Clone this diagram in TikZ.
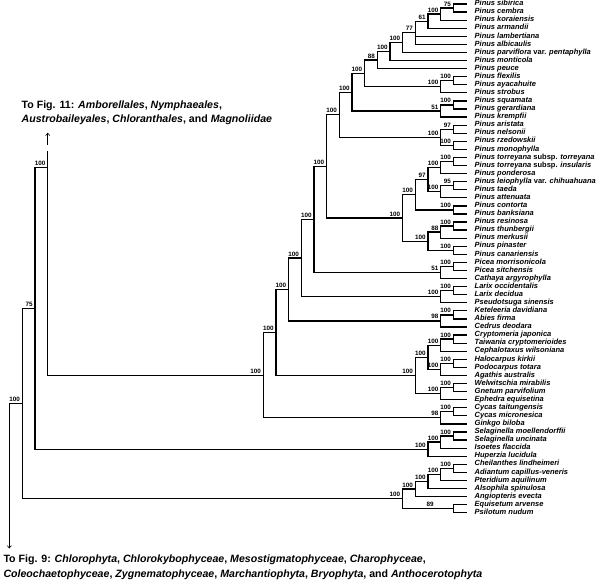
\documentclass[tikz,border=0pt]{standalone}
\usepackage{fontspec}
\setmainfont{Liberation Sans}
\usetikzlibrary{calc,arrows.meta}
\newcommand\mkin[4]{\path let \p1=(#3), \p2=(#4) in coordinate (#1) at ({466-12.67*#2},{0.5*(\y1+\y2)});}
\newcommand\mkinx[4]{\path let \p1=(#3), \p2=(#4) in coordinate (#1) at (#2,{0.5*(\y1+\y2)});}
\newcommand\brn[2]{\draw[br] (#1) |- (#2);}
\newcommand\nd[5]{\mkin{#1}{#2}{#3}{#4}\brn{#1}{#3}\brn{#1}{#4}\node[bs] (b#1) at (#1) {#5};}
\newcommand\ndx[5]{\mkinx{#1}{#2}{#3}{#4}\brn{#1}{#3}\brn{#1}{#4}\node[bs] (b#1) at (#1) {#5};}
\begin{document}
\begin{tikzpicture}[x=1pt,y=1pt,
  br/.style={line width=1.25pt,line cap=rect,line join=miter,black},
  bs/.style={font=\fontsize{6.3}{7}\selectfont\bfseries,anchor=south east,inner sep=0pt,xshift=-2.2pt,yshift=1.7pt},
  bsc/.style={font=\fontsize{6.3}{7}\selectfont\bfseries,anchor=south,inner sep=0pt,yshift=1.7pt},
  leaf/.style={font=\fontsize{7.5}{8}\selectfont\bfseries\itshape,anchor=base west,inner sep=0pt},
  ttl/.style={font=\fontsize{10.6}{13}\selectfont\bfseries,anchor=base west,inner sep=0pt},
  arw/.style={line width=0.6pt,-{Straight Barb[length=2.4pt,width=4.2pt]}}]
\useasboundingbox (0,0) rectangle (600,-581);
% leaves
\foreach \t [count=\i] in {
{Pinus sibirica},{Pinus cembra},{Pinus koraiensis},{Pinus armandii},{Pinus lambertiana},
{Pinus albicaulis},{Pinus parviflora {\upshape var.} pentaphylla},{Pinus monticola},{Pinus peuce},
{Pinus flexilis},{Pinus ayacahuite},{Pinus strobus},{Pinus squamata},{Pinus gerardiana},
{Pinus krempfii},{Pinus aristata},{Pinus nelsonii},{Pinus rzedowskii},{Pinus monophylla},
{Pinus torreyana {\upshape subsp.} torreyana},{Pinus torreyana {\upshape subsp.} insularis},
{Pinus ponderosa},{Pinus leiophylla {\upshape var.} chihuahuana},{Pinus taeda},{Pinus attenuata},
{Pinus contorta},{Pinus banksiana},{Pinus resinosa},{Pinus thunbergii},{Pinus merkusii},
{Pinus pinaster},{Pinus canariensis},{Picea morrisonicola},{Picea sitchensis},
{Cathaya argyrophylla},{Larix occidentalis},{Larix decidua},{Pseudotsuga sinensis},
{Keteleeria davidiana},{Abies firma},{Cedrus deodara},{Cryptomeria japonica},
{Taiwania cryptomerioides},{Cephalotaxus wilsoniana},{Halocarpus kirkii},{Podocarpus totara},
{Agathis australis},{Welwitschia mirabilis},{Gnetum parvifolium},{Ephedra equisetina},
{Cycas taitungensis},{Cycas micronesica},{Ginkgo biloba},{Selaginella moellendorffii},
{Selaginella uncinata},{Isoetes flaccida},{Huperzia lucidula},{Cheilanthes lindheimeri},
{Adiantum capillus-veneris},{Pteridium aquilinum},{Alsophila spinulosa},{Angiopteris evecta},
{Equisetum arvense},{Psilotum nudum}}{
  \coordinate (l\i) at (466,{-4-(\i-1)*8.075});
  \node[leaf] (t\i) at (474.5,{-4-(\i-1)*8.075-1.7}) {\t};
}
% Strobus
\nd{a1}{1}{l1}{l2}{75}
\nd{a2}{2}{a1}{l3}{100}
\nd{a3}{3}{a2}{l4}{61}
\nd{a4}{4}{a3}{l6}{77}
\brn{a4}{l5}
\nd{a5}{5}{a4}{l7}{100}
\nd{a6}{6}{a5}{l8}{100}
\nd{a7}{7}{a6}{l9}{88}
\nd{b1}{1}{l10}{l11}{100}
\nd{b2}{2}{b1}{l12}{100}
\nd{a8}{8}{a7}{b2}{100}
\nd{c1}{1}{l13}{l14}{100}
\nd{c2}{2}{c1}{l15}{51}
\nd{a9}{9}{a8}{c2}{100}
\nd{d1}{1}{l16}{l17}{97}
\nd{d2}{1}{l18}{l19}{100}
\nd{d3}{2}{d1}{d2}{100}
\nd{a10}{10}{a9}{d3}{100}
% Pinus
\nd{e1}{1}{l20}{l21}{100}
\nd{e2}{2}{e1}{l22}{100}
\nd{e3}{1}{l23}{l24}{95}
\nd{e4}{2}{e3}{l25}{100}
\nd{e5}{3}{e2}{e4}{97}
\nd{e6}{1}{l26}{l27}{100}
\nd{e7}{4}{e5}{e6}{100}
\nd{f1}{1}{l28}{l29}{100}
\nd{f2}{2}{f1}{l30}{88}
\nd{f3}{1}{l31}{l32}{100}
\nd{f4}{3}{f2}{f3}{100}
\nd{e8}{5}{e7}{f4}{100}
\nd{a11}{11}{a10}{e8}{100}
% Pinaceae
\nd{g1}{1}{l33}{l34}{100}
\nd{g2}{2}{g1}{l35}{51}
\nd{a12}{12}{a11}{g2}{100}
\nd{h1}{1}{l36}{l37}{100}
\nd{h2}{2}{h1}{l38}{100}
\nd{a13}{13}{a12}{h2}{100}
\nd{i1}{1}{l39}{l40}{100}
\nd{i2}{2}{i1}{l41}{98}
\nd{a14}{14}{a13}{i2}{100}
% other conifers, Gnetales
\nd{j1}{1}{l42}{l43}{100}
\nd{j2}{2}{j1}{l44}{100}
\nd{j3}{1}{l45}{l46}{100}
\nd{j4}{2}{j3}{l47}{100}
\nd{j5}{3}{j2}{j4}{100}
\nd{j6}{1}{l48}{l49}{100}
\nd{j7}{2}{j6}{l50}{100}
\nd{j8}{4}{j5}{j7}{100}
\nd{a15}{15}{a14}{j8}{100}
% cycads, Ginkgo
\nd{m1}{1}{l51}{l52}{100}
\nd{m2}{2}{m1}{l53}{98}
\nd{a16}{16}{a15}{m2}{100}
% seed plants + angiosperms
\coordinate (s1) at (47.7,-167.7);
\coordinate (angtop) at (47.7,-151.7);
\coordinate (arwa) at (47.7,-145);
\coordinate (arwb) at (47.7,-132.7);
\draw[br] (s1) -- (angtop);
\brn{s1}{a16}
\node[bs] (bs1) at (s1) {100};
\draw[arw] (arwa) -- (arwb);
% lycophytes
\nd{p1}{1}{l54}{l55}{100}
\nd{p2}{2}{p1}{l56}{100}
\nd{p3}{3}{p2}{l57}{100}
\ndx{s2}{35}{s1}{p3}{75}
% ferns
\nd{q1}{1}{l58}{l59}{100}
\nd{q2}{2}{q1}{l60}{100}
\nd{q3}{3}{q2}{l61}{100}
\nd{q4}{4}{q3}{l62}{100}
\mkin{q5}{1}{l63}{l64}
\brn{q5}{l63}\brn{q5}{l64}
\path let \p1=(q5) in node[bsc] (bq5) at (430,\y1) {89};
\nd{q6}{5}{q4}{q5}{100}
\ndx{s3}{22.3}{s2}{q6}{100}
% root
\path let \p1=(s3) in coordinate (r) at (9.3,\y1);
\coordinate (rbot) at (9.3,-540);
\coordinate (rarw) at (9.3,-548.5);
\draw[br] (r) -- (s3);
\draw[br] (r) -- (rbot);
\draw[arw] (rbot) -- (rarw);
% captions
\node[ttl] (t11a) at (21.5,-108.8) {To Fig. 11: \textit{Amborellales}, \textit{Nymphaeales},};
\node[ttl] (t11b) at (21.5,-122.1) {\textit{Austrobaileyales}, \textit{Chloranthales}, and \textit{Magnoliidae}};
\node[ttl] (t9a) at (3.3,-562.1) {To Fig. 9: \textit{Chlorophyta}, \textit{Chlorokybophyceae}, \textit{Mesostigmatophyceae}, \textit{Charophyceae},};
\node[ttl] (t9b) at (3.3,-577.1) {\textit{Coleochaetophyceae}, \textit{Zygnematophyceae}, \textit{Marchantiophyta}, \textit{Bryophyta}, and \textit{Anthocerotophyta}};
\end{tikzpicture}
\end{document}
